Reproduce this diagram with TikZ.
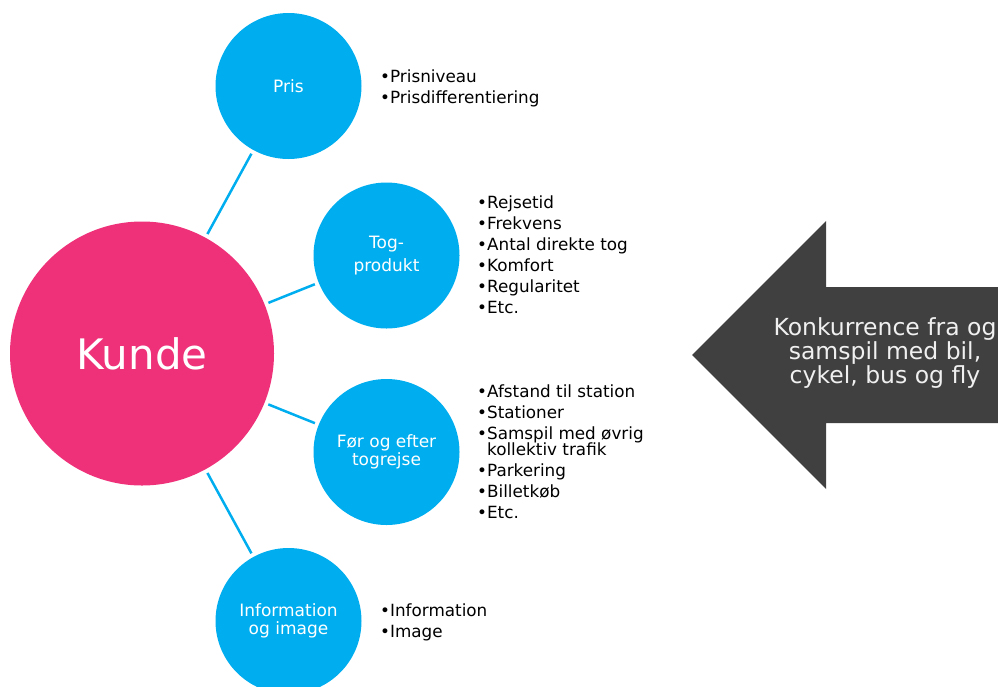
\documentclass[tikz,border=0pt]{standalone}
\usepackage{fontspec}
\setmainfont{DejaVu Sans}
\usepackage{xcolor}
\usetikzlibrary{arrows}

\definecolor{togblue}{HTML}{00AEEF}
\definecolor{kundepink}{HTML}{EE3179}
\definecolor{konkgray}{HTML}{404040}

\begin{document}
\begin{tikzpicture}[x=1pt,y=-1pt,
    emne/.style={shape=circle,fill=togblue,minimum size=146pt,inner sep=0pt,
        text=white,align=center,font=\fontsize{17}{17.5}\selectfont},
    liste/.style={anchor=base west,align=left,inner sep=0pt,
        font=\fontsize{16.8}{21}\selectfont},
    forbind/.style={draw=togblue,line width=2.5pt,shorten >=4pt,shorten <=4pt}]
\clip (0,0) rectangle (998,686);
\begin{scope}

    \node[shape=circle,fill=kundepink,minimum size=264pt,inner sep=0pt,text=white,
        font=\fontsize{42}{50}\selectfont] (kunde) at (142,353.5) {Kunde};

    \node[emne] (pris)  at (288.5,86)  {Pris};
    \node[emne] (tog)   at (386.5,255.5) {Tog-\\[6pt]produkt};
    \node[emne] (foer)  at (386.5,452) {Før og efter\\togrejse};
    \node[emne] (info)  at (288.5,621) {Information\\og image};

    \draw[forbind] (kunde) -- (pris);
    \draw[forbind] (kunde) -- (tog);
    \draw[forbind] (kunde) -- (foer);
    \draw[forbind] (kunde) -- (info);

    % last baseline of each list
    \node[liste] (prisliste) at (380,103) {•Prisniveau\\•Prisdifferentiering};
    \node[liste] (togliste)  at (477,313) {•Rejsetid\\•Frekvens\\•Antal direkte tog\\
        •Komfort\\•Regularitet\\•Etc.};
    \node[liste] (foerliste) at (477,518) {•Afstand til station\\•Stationer\\
        •Samspil med øvrig\\[-5pt]\hphantom{•}kollektiv trafik\\•Parkering\\•Billetkøb\\•Etc.};
    \node[liste] (infoliste) at (380,637) {•Information\\•Image};

    % pil med konkurrence
    \fill[konkgray] (692,355) -- (826,221) -- (826,287) -- (1010,287)
        -- (1010,423) -- (826,423) -- (826,489) -- cycle;
    \node[align=center,text=white!94!black,font=\fontsize{23.5}{22.5}\selectfont]
        (konk) at (885,353) {Konkurrence fra og\\samspil med bil,\\cykel, bus og fly};

\end{scope}
\end{tikzpicture}
\end{document}
